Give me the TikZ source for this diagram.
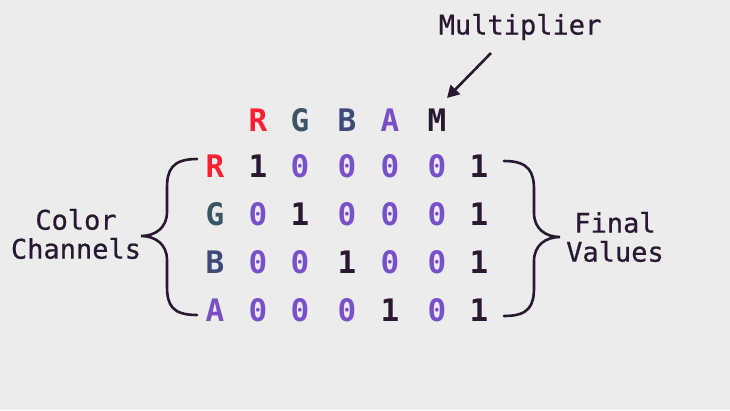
\documentclass[tikz,border=0pt]{standalone}
\usepackage{fontspec}
\setmonofont{DejaVu Sans Mono}
\newfontfamily\labfont[FakeBold=0.7]{DejaVu Sans Mono}
\usetikzlibrary{arrows.meta}
\definecolor{bgc}{HTML}{ECECEC}
\definecolor{ink}{HTML}{2A1733}
\definecolor{cr}{HTML}{FF1F2E}
\definecolor{cg}{HTML}{3A5566}
\definecolor{cb}{HTML}{3D4A7A}
\definecolor{ca}{HTML}{7B4FC2}
\definecolor{zero}{HTML}{7B4FC9}
\begin{document}
\begin{tikzpicture}[x=1pt,y=-1pt,
  cell/.style={font=\ttfamily\bfseries\fontsize{31}{31}\selectfont, inner sep=0pt, anchor=center},
  lab/.style={font=\labfont\fontsize{27}{29}\selectfont, text=ink, align=center, inner sep=0pt},
  bracepath/.style={draw=ink, line width=2.6pt, line cap=round},
]
\fill[bgc] (0,0) rectangle (730,410);
\useasboundingbox (0,0) rectangle (730,410);
% header
\node[cell,text=cr] (hR) at (258,120) {R};
\node[cell,text=cg] (hG) at (300,120) {G};
\node[cell,text=cb] (hB) at (347,120) {B};
\node[cell,text=ca] (hA) at (390,120) {A};
\node[cell,text=ink] (hM) at (437,120) {M};
% row labels
\node[cell,text=cr] (rR) at (215,166) {R};
\node[cell,text=cg] (rG) at (215,214) {G};
\node[cell,text=cb] (rB) at (215,262) {B};
\node[cell,text=ca] (rA) at (215,310) {A};
% matrix
\foreach \r/\y in {1/166,2/214,3/262,4/310}{
  \foreach \c/\x in {1/258,2/300,3/347,4/390,5/437}{
    \ifnum\r=\c
      \node[cell,text=ink] (m\r\c) at (\x,\y) {1};
    \else
      \node[cell,text=zero] (m\r\c) at (\x,\y) {0};
    \fi
  }
  \node[cell,text=ink] (f\r) at (479,\y) {1};
}
% labels
\node[lab] (mult) at (520,27) {Multiplier};
\node[lab] (cc) at (76,234) {Color\\Channels};
\node[lab] (fv) at (615,237) {Final\\Values};
% arrow
\coordinate (arrS) at (491,53);
\coordinate (arrE) at (447,98);
\draw[draw=ink, line width=2.6pt, -{Triangle[length=12pt,width=13pt]}] (arrS) -- (arrE);
% left brace
\coordinate (lT) at (197,159);
\coordinate (lTip) at (141,236);
\coordinate (lB) at (197,315);
\draw[bracepath] (lT) .. controls (172,159) and (167,170) .. (167,188)
  -- (167,212) .. controls (167,228) and (155,236) .. (lTip)
  .. controls (155,236) and (167,244) .. (167,260)
  -- (167,286) .. controls (167,305) and (172,315) .. (lB);
% right brace
\coordinate (rT) at (504,161);
\coordinate (rTip) at (560,237);
\coordinate (rB) at (504,316);
\draw[bracepath] (rT) .. controls (529,161) and (534,172) .. (534,190)
  -- (534,213) .. controls (534,229) and (546,237) .. (rTip)
  .. controls (546,237) and (534,245) .. (534,261)
  -- (534,287) .. controls (534,306) and (529,316) .. (rB);
\end{tikzpicture}
\end{document}
